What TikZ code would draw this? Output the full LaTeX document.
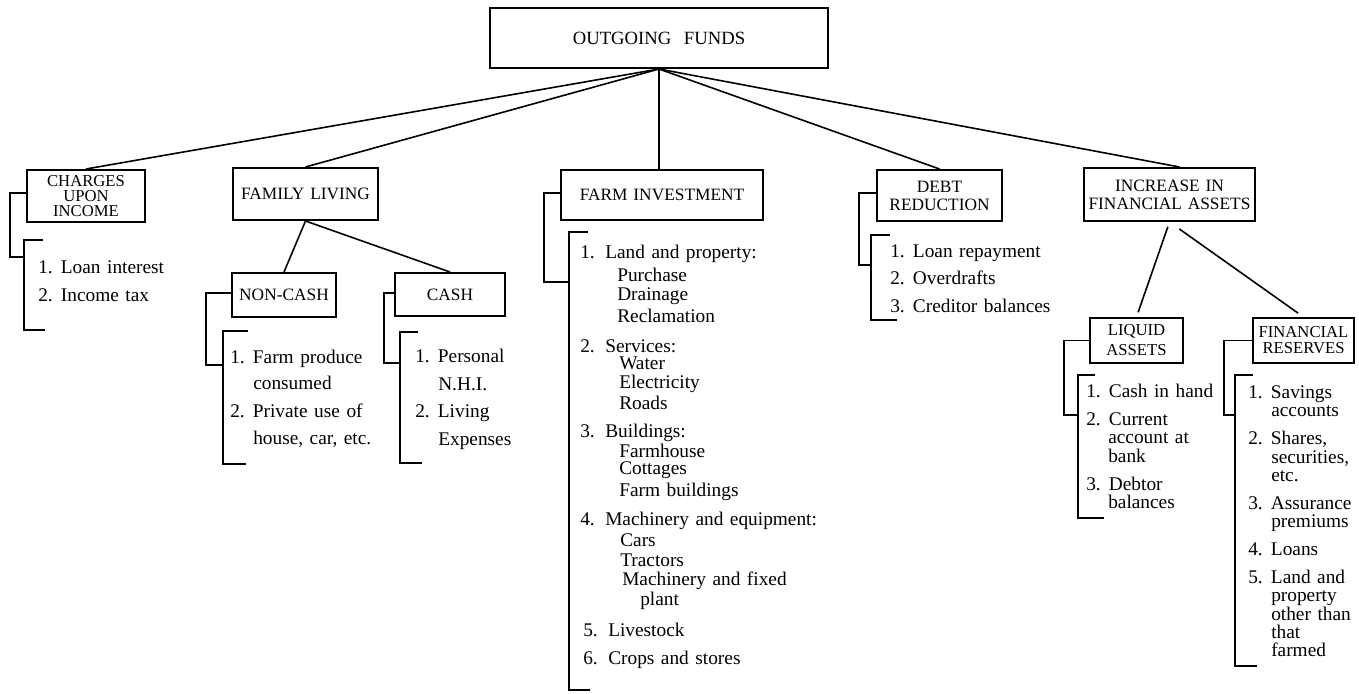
\documentclass[tikz,border=0pt]{standalone}
\usepackage{fontspec}
\setmainfont[WordSpace=1.35]{Liberation Serif}
\newcommand\nb[1]{\makebox[17pt][l]{#1}}
\newcommand\nbb[1]{\makebox[18.75pt][l]{#1}}
\begin{document}
\begin{tikzpicture}[x=0.75pt,y=-0.75pt,
  hd/.style={draw,line width=1.5pt,inner sep=0pt,align=center,font=\fontsize{13}{13.5}\selectfont},
  item/.style={anchor=base west,inner sep=0pt,font=\fontsize{14.5}{16}\selectfont},
  ln/.style={line width=1.2pt},
  br/.style={line width=1.3pt}]
\useasboundingbox (0,0) rectangle (1359,693);

% heading boxes
\node[hd,minimum width=253.5pt,minimum height=45pt,font=\fontsize{14}{15}\selectfont] (OF) at (659,38) {OUTGOING\ \ FUNDS};
\node[hd,minimum width=88.5pt,minimum height=39pt,font=\fontsize{12.5}{11.5}\selectfont] (CH) at (86,196) {CHARGES\\UPON\\INCOME};
\node[hd,minimum width=108.75pt,minimum height=39pt] (FL) at (305.5,194) {FAMILY LIVING};
\node[hd,minimum width=151.5pt,minimum height=37.5pt] (FI) at (662,195) {FARM INVESTMENT};
\node[hd,minimum width=93.75pt,minimum height=38.25pt] (DR) at (939.5,195.5) {DEBT\\REDUCTION};
\node[hd,minimum width=128.25pt,minimum height=39.75pt] (IFA) at (1169.5,194.5) {INCREASE IN\\FINANCIAL ASSETS};
\node[hd,minimum width=78pt,minimum height=33pt] (NC) at (284,295) {NON-CASH};
\node[hd,minimum width=82.5pt,minimum height=32.25pt] (CA) at (450,294.5) {CASH};
\node[hd,minimum width=69.75pt,minimum height=33.75pt,font=\fontsize{12.5}{15}\selectfont] (LA) at (1136.5,340.5) {LIQUID\\ASSETS};
\node[hd,minimum width=75.75pt,minimum height=33.75pt,font=\fontsize{12.5}{12}\selectfont] (FR) at (1303.5,340.5) {FINANCIAL\\RESERVES};

% connectors
\draw[ln] (OF.south) -- (CH.north);
\draw[ln] (OF.south) -- (FL.north);
\draw[ln] (OF.south) -- (OF.south |- FI.north);
\draw[ln] (OF.south) -- (DR.north);
\draw[ln] (OF.south) -- ([xshift=7.5pt]IFA.north);
\draw[ln] (FL.south) -- (NC.north);
\draw[ln] (FL.south) -- (CA.north);
\draw[ln,shorten <=3.75pt,shorten >=3.75pt] (IFA.south) -- (LA.north);
\draw[ln,shorten <=9pt,shorten >=5pt] (IFA.south) -- (FR.north);

% brackets
\draw[br] ([yshift=2.25pt]CH.west) -| (10,257) -- (24,257);
\draw[br] (43,240) -| (24,330) -- (45,330);
\draw[br] ([yshift=1.5pt]NC.west) -| (206,365) -- (223,365);
\draw[br] (248,331) -| (223,464) -- (246,464);
\draw[br] ([yshift=1.125pt]CA.west) -| (384,363) -- (400,363);
\draw[br] (418,332) -| (400,463) -- (422,463);
\draw[br] ([yshift=1.5pt]FI.west) -| (544,282) -- (569,282);
\draw[br] (588,232) -| (569,690) -- (590,690);
\draw[br] ([yshift=1.875pt]DR.west) -| (859,265) -- (871,265);
\draw[br] (890,235) -| (871,320) -- (897,320);
\draw[br] (LA.west) -| (1064,415) -- (1078,415);
\draw[br] (1095,375) -| (1078,518) -- (1104,518);
\draw[br] (FR.west) -| (1224,415) -- (1235,415);
\draw[br] (1253,375) -| (1235,666) -- (1257,666);

% lists
\foreach \x/\y/\t [count=\i] in {38/273/{\nb{1.}Loan interest},38/301/{\nb{2.}Income tax}}
  \node[item] (ch\i) at (\x,\y) {\t};
\foreach \x/\y/\t [count=\i] in {230/363/{\nb{1.}Farm produce},253/389/{consumed},230/417/{\nb{2.}Private use of},253/444/{house, car, etc.}}
  \node[item] (nc\i) at (\x,\y) {\t};
\foreach \x/\y/\t [count=\i] in {415/362/{\nb{1.}Personal},438/390/{N.H.I.},415/417/{\nb{2.}Living},438/445/{Expenses}}
  \node[item] (ca\i) at (\x,\y) {\t};
\foreach \x/\y/\t [count=\i] in {580/258/{\nbb{1.}Land and property:},617/281/{Purchase},617/300/{Drainage},617/322/{Reclamation},
  580/352/{\nbb{2.}Services:},619/369/{Water},619/388/{Electricity},619/409/{Roads},
  580/437/{\nbb{3.}Buildings:},619/457/{Farmhouse},619/474/{Cottages},619/496/{Farm buildings},
  580/525/{\nbb{4.}Machinery and equipment:},620/546/{Cars},620/566/{Tractors},622/585/{Machinery and fixed},640/605/{plant},
  583/636/{\nbb{5.}Livestock},583/664/{\nbb{6.}Crops and stores}}
  \node[item] (fi\i) at (\x,\y) {\t};
\foreach \x/\y/\t [count=\i] in {890/257/{\nb{1.}Loan repayment},890/284/{\nb{2.}Overdrafts},890/312/{\nb{3.}Creditor balances}}
  \node[item] (dr\i) at (\x,\y) {\t};
\foreach \x/\y/\t [count=\i] in {1086/397/{\nb{1.}Cash in hand},1086/425/{\nb{2.}Current},1108/443/{account at},1108/462/{bank},1086/490/{\nb{3.}Debtor},1108/508/{balances}}
  \node[item] (la\i) at (\x,\y) {\t};
\foreach \x/\y/\t [count=\i] in {1248/398/{\nb{1.}Savings},1271/416/{accounts},1248/444/{\nb{2.}Shares,},1271/463/{securities,},1271/481/{etc.},
  1248/509/{\nb{3.}Assurance},1271/527/{premiums},1248/555/{\nb{4.}Loans},1248/583/{\nb{5.}Land and},1271/601/{property},1271/620/{other than},1271/638/{that},1271/656/{farmed}}
  \node[item] (fr\i) at (\x,\y) {\t};
\end{tikzpicture}
\end{document}
